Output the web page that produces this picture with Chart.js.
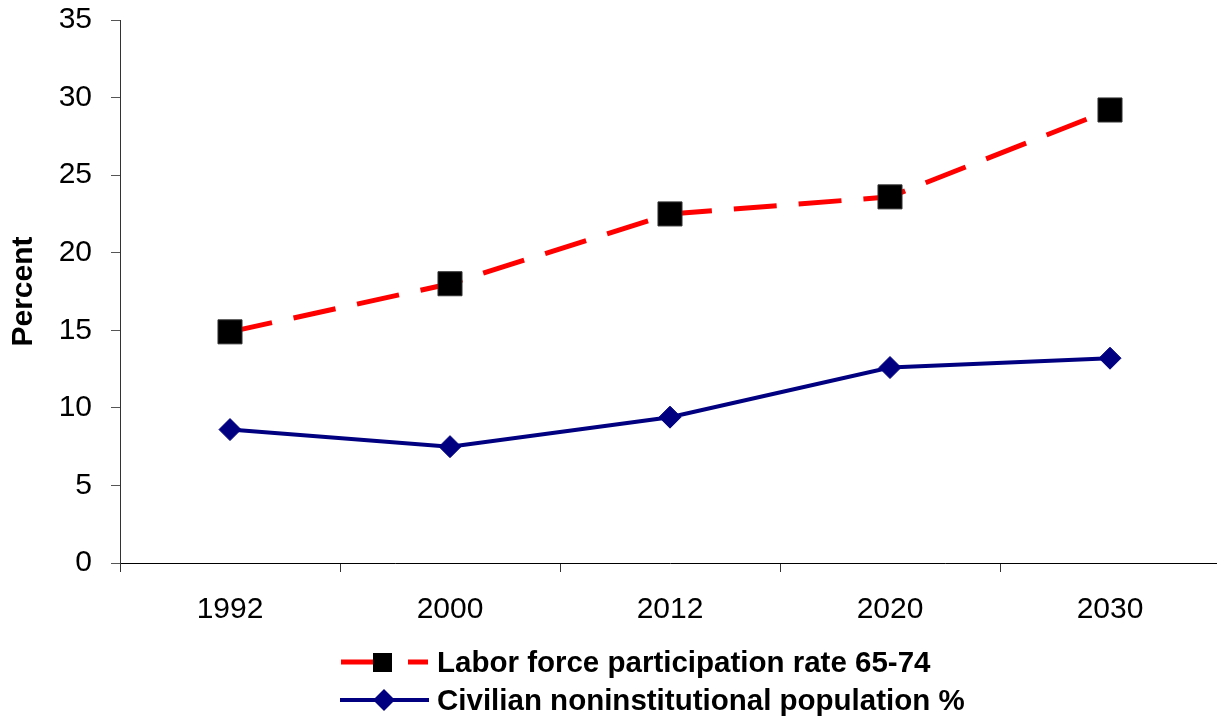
<!DOCTYPE html>
<html>
<head>
<meta charset="utf-8">
<script src="https://cdn.jsdelivr.net/npm/chart.js@4"></script>
<style>
  html, body { margin: 0; padding: 0; background: #fff; overflow: hidden; }
  #projectChart { position: absolute; left: 0; top: 0; }
  .leg { position: absolute; left: 339px; height: 36px; }
  .leg canvas { position: absolute; left: 0; top: 0; }
  .leg span {
    position: absolute; left: 98px; top: 0; white-space: nowrap;
    font: bold 29.5px "Liberation Sans", Arial, sans-serif; line-height: 36px; color: #000;
  }
</style>
</head>
<body>
<canvas id="projectChart" width="1220" height="717"></canvas>
<div class="leg" style="top:644px"><canvas id="leg1" width="92" height="36"></canvas><span id="legText1"></span></div>
<div class="leg" style="top:682px"><canvas id="leg2" width="92" height="36"></canvas><span id="legText2"></span></div>
<script>
// chart values
const years = ['1992', '2000', '2012', '2020', '2030'];
const laborRate = [14.9, 18.0, 22.5, 23.6, 29.2];
const civilianPop = [8.6, 7.5, 9.4, 12.6, 13.2];
const seriesNames = ['Labor force participation rate 65-74', 'Civilian noninstitutional population %'];
const yTicks = [0, 5, 10, 15, 20, 25, 30, 35];

const font = '"Liberation Sans", Arial, sans-serif';

const chartOptions = {
    responsive: false,
    maintainAspectRatio: false,
    animation: false,
    layout: { autoPadding: false, padding: { left: 0, right: 0, top: 20, bottom: 69 } },
    plugins: { legend: { display: false }, tooltip: { enabled: false } },
    scales: {
        x: {
            offset: true,
            afterFit: (s) => { s.paddingLeft = 0; s.paddingRight = 0; },
            grid: { offset: true, drawOnChartArea: false, drawTicks: true, tickLength: 9, color: '#333', lineWidth: 1 },
            border: { display: true, color: '#000', width: 1 },
            ticks: { color: '#000', font: { family: font, size: 30 }, padding: 20, maxRotation: 0 }
        },
        y: {
            min: 0,
            max: 35,
            afterBuildTicks: (s) => { s.ticks = yTicks.map(v => ({ value: v })); },
            afterFit: (s) => { s.width = 120; s.paddingTop = 0; s.paddingBottom = 0; },
            grid: { drawOnChartArea: false, drawTicks: true, tickLength: 9, color: '#555', lineWidth: 1 },
            border: { display: true, color: '#333', width: 1 },
            ticks: { color: '#000', font: { family: font, size: 30 }, padding: 19 },
            title: {
                display: true,
                text: 'Percent',
                color: '#000',
                font: { family: font, size: 30, weight: 'bold' },
                padding: { top: 6, bottom: 0 }
            }
        }
    }
};

const ctx = document.getElementById('projectChart').getContext('2d');

const projectChart = new Chart(ctx, {
    type: 'line',
    data: {
        labels: years,
        datasets: [{
            label: seriesNames[1],
            data: civilianPop,
            borderColor: '#000080',
            borderWidth: 4,
            pointStyle: 'rectRot',
            pointRadius: 11,
            pointBackgroundColor: '#000080',
            pointBorderColor: '#000080',
            pointBorderWidth: 1,
            tension: 0,
            clip: false
        }, {
            label: seriesNames[0],
            data: laborRate,
            borderColor: '#ff0000',
            borderWidth: 5,
            borderDash: [43, 22],
            pointStyle: 'rect',
            pointRadius: 17,
            pointBackgroundColor: '#000',
            pointBorderColor: '#333',
            pointBorderWidth: 1,
            tension: 0,
            clip: false
        }]
    },
    options: chartOptions
});

// legend samples (line + marker, like the original)
document.getElementById('legText1').textContent = seriesNames[0];
document.getElementById('legText2').textContent = seriesNames[1];

const l1 = document.getElementById('leg1').getContext('2d');
l1.strokeStyle = '#ff0000';
l1.lineWidth = 5;
l1.beginPath();
l1.moveTo(2, 18); l1.lineTo(34, 18);
l1.moveTo(69, 18); l1.lineTo(89, 18);
l1.stroke();
l1.fillStyle = '#000';
l1.fillRect(34, 9, 19, 19);

const l2 = document.getElementById('leg2').getContext('2d');
l2.strokeStyle = '#000080';
l2.lineWidth = 4;
l2.beginPath();
l2.moveTo(1, 18); l2.lineTo(90, 18);
l2.stroke();
l2.fillStyle = '#000080';
l2.beginPath();
l2.moveTo(45, 7); l2.lineTo(56, 18); l2.lineTo(45, 29); l2.lineTo(34, 18);
l2.closePath();
l2.fill();
</script>
</body>
</html>
